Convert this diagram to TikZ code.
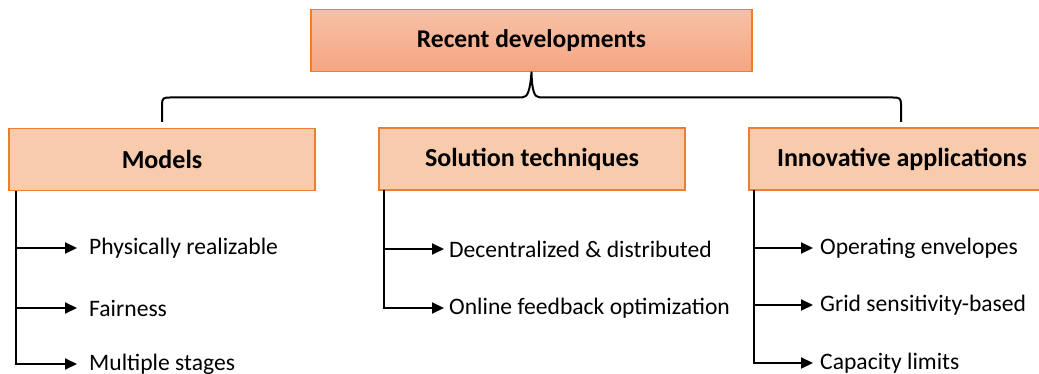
\documentclass[tikz,border=0pt]{standalone}
\usepackage{fontspec}
\setmainfont{Carlito}
\usetikzlibrary{arrows.meta}
\definecolor{orgline}{HTML}{ED7D31}
\definecolor{boxfill}{HTML}{F8CBAD}
\definecolor{topA}{HTML}{F7C1A7}
\definecolor{topB}{HTML}{F4A582}
\tikzset{
  catbox/.style={draw=orgline, line width=1.8pt, fill=boxfill, minimum width=306pt, minimum height=62pt, inner sep=0pt, font=\fontsize{26}{30}\selectfont\bfseries},
  topbox/.style={draw=orgline, line width=1.8pt, top color=topA, bottom color=topB, minimum width=441pt, minimum height=62pt, inner sep=0pt, font=\fontsize{25.5}{30}\selectfont\bfseries},
  item/.style={anchor=west, inner sep=0pt, font=\fontsize{23.6}{28}\selectfont},
  conn/.style={line width=2pt, black},
  arr/.style={conn, -{Triangle[length=12pt,width=11pt]}},
}
\begin{document}
\begin{tikzpicture}[x=1pt,y=-1pt]
\useasboundingbox (0,0) rectangle (1039,374);
\begin{scope}
\clip (0,0) rectangle (1039,374);
\node[topbox] (top) at (531.5,40.5) {Recent developments};
\node[catbox] (m) at (162,159.5) {Models};
\node[catbox] (s) at (532,159) {Solution techniques};
\node[catbox] (a) at (902,159) {Innovative applications};
\end{scope}
% brace
\coordinate (bl) at (162,122);
\coordinate (br) at (901,122);
\draw[conn, line join=round] (bl) -- (162,104) .. controls (162,98) and (164,97.5) .. (170,97.5)
  -- (522,97.5) .. controls (528,97.5) and (530,90) .. (top.south)
  .. controls (532,90) and (534,97.5) .. (540,97.5)
  -- (893,97.5) .. controls (899,97.5) and (901,98) .. (901,104) -- (br);
% Models
\node[item] (m1) at (89,248) {Physically realizable};
\node[item] (m2) at (89,308) {Fairness};
\node[item] (m3) at (89,364) {Multiple stages};
\draw[conn] (16,191) -- (16,364);
\draw[arr] (16,248) -- ([xshift=-12pt]m1.west);
\draw[arr] (16,308) -- ([xshift=-12pt]m2.west);
\draw[arr] (15,364) -- ([xshift=-12pt]m3.west);
% Solutions
\node[item] (s1) at (449,249) {Decentralized \& distributed};
\node[item] (s2) at (449,308) {Online feedback optimization};
\draw[conn] (384,190) -- (384,308);
\draw[arr] (384,249) -- ([xshift=-5pt]s1.west);
\draw[arr] (383,308) -- ([xshift=-5pt]s2.west);
% Applications
\node[item] (a1) at (820,248) {Operating envelopes};
\node[item] (a2) at (820,305) {Grid sensitivity-based};
\node[item] (a3) at (820,363) {Capacity limits};
\draw[conn] (754,190) -- (754,363);
\draw[arr] (754,248) -- ([xshift=-7pt]a1.west);
\draw[arr] (754,305) -- ([xshift=-7pt]a2.west);
\draw[arr] (753,363) -- ([xshift=-7pt]a3.west);
\end{tikzpicture}
\end{document}
